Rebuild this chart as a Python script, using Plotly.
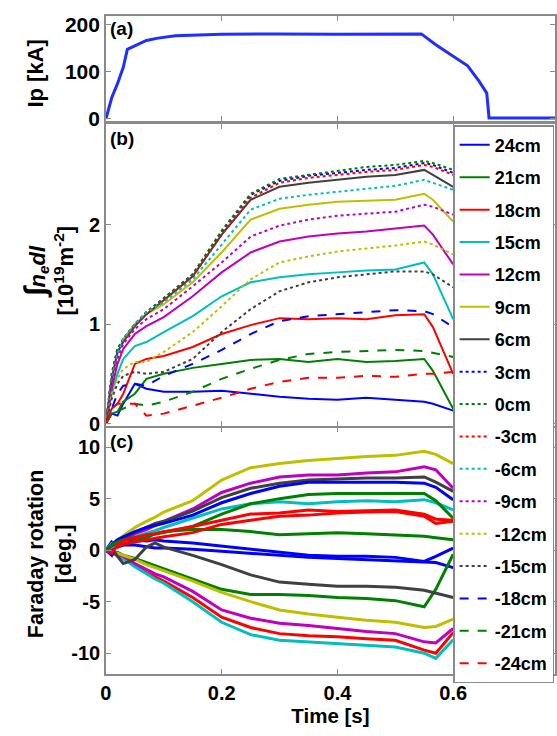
import plotly.graph_objects as go

# ---------------- data ----------------
channels = ["24cm", "21cm", "18cm", "15cm", "12cm", "9cm", "6cm", "3cm", "0cm",
            "-3cm", "-6cm", "-9cm", "-12cm", "-15cm", "-18cm", "-21cm", "-24cm"]
colors = ["#0000FF", "#008000", "#FF0000", "#00BFBF", "#BF00BF", "#BFBF00", "#404040",
          "#0000FF", "#008000", "#FF0000", "#00BFBF", "#BF00BF", "#BFBF00", "#404040",
          "#0000FF", "#008000", "#FF0000"]
dashes = ["solid"] * 7 + ["dot"] * 7 + ["dash"] * 3

# (a) plasma current
t_ip = [0, 0.01, 0.02, 0.03, 0.037, 0.05, 0.07, 0.09, 0.12, 0.2, 0.3, 0.4, 0.5,
        0.545, 0.57, 0.6, 0.625, 0.645, 0.658, 0.662, 0.7, 0.776]
ip_ka = [0, 45, 75, 110, 148, 155, 167, 172, 177, 180, 181, 180, 181,
         181, 158, 134, 113, 80, 55, 2, 2, 2]

# (b) line-integrated density [1e19 m^-2]
t_b = [0, 0.01, 0.02, 0.03, 0.05, 0.07, 0.1, 0.15, 0.2, 0.25, 0.3, 0.35, 0.4, 0.45,
       0.5, 0.55, 0.565, 0.6]
ne_p24 = [0, 0.10, 0.08, 0.20, 0.40, 0.35, 0.32, 0.32, 0.33, 0.30, 0.27, 0.25, 0.24, 0.26, 0.24, 0.22, 0.20, 0.13]
ne_p21 = [0, 0.10, 0.12, 0.22, 0.30, 0.45, 0.50, 0.56, 0.60, 0.64, 0.65, 0.62, 0.65, 0.62, 0.63, 0.65, 0.53, 0.15]
ne_p18 = [0, 0.15, 0.20, 0.30, 0.60, 0.65, 0.68, 0.77, 0.90, 0.99, 1.06, 1.05, 1.06, 1.05, 1.09, 1.10, 0.97, 0.50]
ne_p15 = [0, 0.30, 0.50, 0.65, 0.78, 0.82, 0.92, 1.08, 1.28, 1.42, 1.47, 1.50, 1.52, 1.54, 1.55, 1.62, 1.50, 1.05]
ne_p12 = [0, 0.35, 0.60, 0.75, 0.90, 0.98, 1.07, 1.28, 1.52, 1.72, 1.83, 1.88, 1.91, 1.93, 1.96, 1.99, 1.90, 1.60]
ne_p9 = [0, 0.45, 0.70, 0.85, 1.00, 1.10, 1.20, 1.42, 1.72, 2.05, 2.16, 2.20, 2.23, 2.24, 2.25, 2.31, 2.25, 2.03]
ne_p6 = [0, 0.45, 0.72, 0.82, 0.98, 1.10, 1.24, 1.48, 1.90, 2.25, 2.38, 2.42, 2.45, 2.48, 2.50, 2.55, 2.50, 2.38]
ne_p3 = [0, 0.50, 0.75, 0.85, 1.00, 1.12, 1.26, 1.50, 1.93, 2.30, 2.44, 2.49, 2.52, 2.55, 2.57, 2.62, 2.60, 2.52]
ne_0 = [0, 0.50, 0.75, 0.85, 1.00, 1.12, 1.26, 1.50, 1.94, 2.31, 2.46, 2.50, 2.54, 2.58, 2.60, 2.64, 2.62, 2.55]
ne_m3 = [0, 0.45, 0.72, 0.82, 0.98, 1.10, 1.24, 1.48, 1.90, 2.27, 2.42, 2.47, 2.50, 2.53, 2.55, 2.60, 2.58, 2.50]
ne_m6 = [0, 0.45, 0.70, 0.85, 1.00, 1.12, 1.22, 1.45, 1.80, 2.15, 2.26, 2.30, 2.33, 2.36, 2.39, 2.45, 2.42, 2.35]
ne_m9 = [0, 0.40, 0.65, 0.80, 0.95, 1.05, 1.15, 1.38, 1.62, 1.88, 1.99, 2.05, 2.09, 2.11, 2.13, 2.20, 2.18, 2.10]
ne_m12 = [0, 0.30, 0.45, 0.55, 0.62, 0.62, 0.72, 0.92, 1.18, 1.45, 1.62, 1.68, 1.73, 1.76, 1.79, 1.83, 1.80, 1.70]
ne_m15 = [0, 0.25, 0.40, 0.48, 0.52, 0.50, 0.52, 0.65, 0.92, 1.15, 1.33, 1.42, 1.47, 1.50, 1.53, 1.53, 1.50, 1.37]
ne_m18 = [0, 0.15, 0.30, 0.38, 0.40, 0.38, 0.48, 0.60, 0.74, 0.90, 1.03, 1.08, 1.10, 1.12, 1.14, 1.13, 1.10, 0.97]
ne_m21 = [0, 0.10, 0.12, 0.15, 0.20, 0.18, 0.22, 0.32, 0.45, 0.55, 0.64, 0.70, 0.72, 0.73, 0.74, 0.73, 0.71, 0.67]
ne_m24 = [0, 0.15, 0.20, 0.20, 0.20, 0.08, 0.10, 0.18, 0.26, 0.35, 0.42, 0.46, 0.46, 0.48, 0.47, 0.50, 0.50, 0.52]

# (c) Faraday rotation [deg.]
t_c = [0, 0.01, 0.02, 0.03, 0.05, 0.07, 0.085, 0.1, 0.15, 0.2, 0.25, 0.3, 0.35, 0.4,
       0.45, 0.5, 0.55, 0.57, 0.6]
fr_p24 = [0, 0.8, 0.3, 0.5, 0.5, 0.3, 0.2, 0.2, 0.1, -0.1, -0.3, -0.5, -0.7, -0.8, -0.9, -1.0, -1.1, -1.2, -1.7]
fr_p21 = [0, -0.3, -0.2, -0.5, -0.8, -1.2, -1.5, -1.8, -2.8, -3.8, -4.3, -4.3, -4.4, -4.6, -4.7, -4.9, -5.5, -3.8, -0.4]
fr_p18 = [0, -0.3, -0.5, -0.8, -1.5, -2.2, -2.6, -3.0, -4.6, -6.5, -7.5, -8.1, -8.3, -8.4, -8.6, -8.75, -9.7, -10.0, -8.0]
fr_p15 = [0, -0.3, -0.5, -0.8, -1.6, -2.3, -2.8, -3.2, -5.0, -7.0, -8.2, -8.75, -8.9, -9.1, -9.2, -9.4, -10.0, -10.5, -8.7]
fr_p12 = [0, -0.3, -0.4, -0.6, -1.3, -1.9, -2.3, -2.6, -4.0, -5.8, -6.6, -7.1, -7.3, -7.6, -7.9, -8.1, -8.9, -9.0, -7.6]
fr_p9 = [0, -0.2, -0.3, -0.5, -0.9, -1.4, -1.7, -2.0, -3.0, -4.1, -5.0, -5.8, -6.2, -6.5, -6.8, -7.0, -7.5, -7.4, -6.7]
fr_p6 = [0, 0.2, -0.6, -1.3, -0.9, 0.3, 0.7, 0.3, -0.5, -1.4, -2.4, -3.1, -3.3, -3.5, -3.5, -3.6, -3.9, -4.2, -4.6]
fr_p3 = [0, -0.5, 0.8, 1.0, 1.0, 0.9, 1.0, 0.9, 0.7, 0.4, 0.1, -0.2, -0.5, -0.6, -0.6, -0.7, -1.1, -0.6, 0.2]
fr_0 = [0, 0.3, 0.5, 0.6, 0.9, 1.2, 1.6, 1.8, 2.0, 2.0, 1.8, 1.5, 1.6, 1.7, 1.6, 1.5, 1.35, 1.2, 1.0]
fr_m3 = [0, 0.5, 0.3, 0.6, 0.8, 1.0, 1.1, 1.3, 1.7, 2.5, 2.9, 3.3, 3.4, 3.6, 3.7, 3.75, 3.3, 2.6, 2.8]
fr_m6 = [0, 0.3, 0.6, 0.9, 1.3, 1.6, 1.9, 2.2, 3.1, 4.0, 4.5, 4.7, 4.5, 4.7, 4.8, 4.7, 4.9, 4.6, 3.9]
fr_m9 = [0, 0.4, 0.7, 1.0, 1.6, 2.0, 2.4, 2.8, 4.0, 5.6, 6.5, 7.1, 7.3, 7.3, 7.5, 7.6, 8.1, 7.8, 6.0]
fr_m12 = [0, 0.6, 1.0, 1.4, 2.2, 2.8, 3.2, 3.7, 4.8, 6.8, 8.0, 8.4, 8.7, 8.9, 9.1, 9.2, 9.6, 9.3, 8.4]
fr_m15 = [0, 0.5, 0.9, 1.2, 1.7, 2.2, 2.6, 2.8, 3.8, 5.1, 6.0, 6.5, 6.8, 6.9, 7.0, 7.0, 7.1, 6.6, 5.7]
fr_m18 = [0, 0.5, 1.0, 1.3, 1.8, 2.2, 2.4, 2.6, 3.4, 4.6, 5.5, 6.2, 6.6, 6.6, 6.6, 6.6, 6.5, 6.1, 4.9]
fr_m21 = [0, 0.5, 0.8, 1.0, 1.2, 1.4, 1.5, 1.7, 2.3, 3.5, 4.5, 5.0, 5.4, 5.5, 5.5, 5.5, 5.5, 4.8, 3.1]
fr_m24 = [0, -0.3, 0.5, 0.9, 1.2, 1.5, 1.6, 1.8, 2.3, 2.9, 3.5, 3.6, 3.9, 3.75, 3.8, 3.9, 3.5, 3.0, 2.9]

ne_series = [ne_p24, ne_p21, ne_p18, ne_p15, ne_p12, ne_p9, ne_p6, ne_p3, ne_0,
             ne_m3, ne_m6, ne_m9, ne_m12, ne_m15, ne_m18, ne_m21, ne_m24]
fr_series = [fr_p24, fr_p21, fr_p18, fr_p15, fr_p12, fr_p9, fr_p6, fr_p3, fr_0,
             fr_m3, fr_m6, fr_m9, fr_m12, fr_m15, fr_m18, fr_m21, fr_m24]

# ---------------- figure ----------------
W, H = 557, 736
FONT = "Liberation Sans, Arial, sans-serif"
AX = "#8a8a8a"

fig = go.Figure()

fig.add_trace(go.Scatter(x=t_ip, y=ip_ka, mode="lines", xaxis="x", yaxis="y",
                         line=dict(color="#1f2fff", width=3), showlegend=False))

for name, col, dsh, ys in zip(channels, colors, dashes, ne_series):
    fig.add_trace(go.Scatter(x=t_b, y=ys, mode="lines", name=name, legendgroup=name,
                             xaxis="x2", yaxis="y2",
                             line=dict(color=col, width=2, dash=dsh)))

for name, col, ys in zip(channels, colors, fr_series):
    fig.add_trace(go.Scatter(x=t_c, y=ys, mode="lines", name=name, legendgroup=name,
                             xaxis="x3", yaxis="y3", showlegend=False,
                             line=dict(color=col, width=3)))


def px_x(p):
    return p / W


def px_y(p):
    return (H - p) / H


def dom_y(top, bottom):
    return [px_y(bottom), px_y(top)]


def bold(size):
    return dict(family=FONT, size=size, color="black", weight="bold")


common_x = dict(range=[0, 0.776], domain=[px_x(101), px_x(555)],
                showline=True, linecolor=AX, linewidth=1.5, mirror="ticks",
                ticks="inside", ticklen=5, tickcolor=AX, showgrid=False,
                zeroline=False, tickvals=[0, 0.2, 0.4, 0.6],
                ticktext=["0", "0.2", "0.4", "0.6"], tickfont=bold(20))
common_y = dict(showline=True, linecolor=AX, linewidth=1.5, mirror="ticks",
                ticks="inside", ticklen=5, tickcolor=AX, showgrid=False,
                zeroline=False, tickfont=bold(20))

fig.update_layout(
    width=W, height=H,
    margin=dict(l=0, r=0, t=0, b=0),
    paper_bgcolor="white", plot_bgcolor="white",
    font=dict(family=FONT, color="black"),
    xaxis=dict(common_x, anchor="y", showticklabels=False),
    xaxis2=dict(common_x, anchor="y2", matches="x", showticklabels=False),
    xaxis3=dict(common_x, anchor="y3", matches="x",
                title=dict(text="Time [s]", font=bold(20.5), standoff=2)),
    yaxis=dict(common_y, domain=dom_y(14, 121), range=[-4.8, 219.5],
               tickvals=[0, 100, 200], ticktext=["0", "100", "200"],
               tickfont=bold(21), anchor="x"),
    yaxis2=dict(common_y, domain=dom_y(124, 430), range=[-0.02, 3.01],
                tickvals=[0, 1, 2], ticktext=["0", "1", "2"], anchor="x2"),
    yaxis3=dict(common_y, domain=dom_y(432, 682), range=[-12, 11.9],
                tickvals=[-10, -5, 0, 5, 10], ticktext=["-10", "-5", "0", "5", "10"],
                anchor="x3"),
    legend=dict(x=px_x(452), y=px_y(125), xanchor="left", yanchor="top",
                bgcolor="white", bordercolor=AX, borderwidth=1.5,
                font=bold(18), itemwidth=30, tracegroupgap=6),
)

# y-axis titles
ytitles = [
    ("Ip [kA]", 30, 73, 22),
    ("<span style='font-size:30px'>∫</span><i>n<sub>e</sub>dl</i><br>[10<sup>19</sup>m<sup>-2</sup>]",
     43, 273, 22),
    ("Faraday rotation<br>[deg.]", 44, 561, 21.5),
]
for txt, xp, yp, fs in ytitles:
    fig.add_annotation(text=txt, xref="paper", yref="paper", x=px_x(xp), y=px_y(yp),
                       xanchor="center", yanchor="middle", textangle=-90,
                       showarrow=False, font=bold(fs))

# panel labels
for lab, xr, yr in [("(a)", "x domain", "y domain"), ("(b)", "x2 domain", "y2 domain"),
                    ("(c)", "x3 domain", "y3 domain")]:
    fig.add_annotation(text=lab, xref=xr, yref=yr, x=0.004, y=0.995,
                       xanchor="left", yanchor="top", showarrow=False, font=bold(19))

fig.write_html("out.html", config={"displayModeBar": False},
               post_script="document.body.style.margin='0px';"
                           "document.body.style.padding='0px';")
